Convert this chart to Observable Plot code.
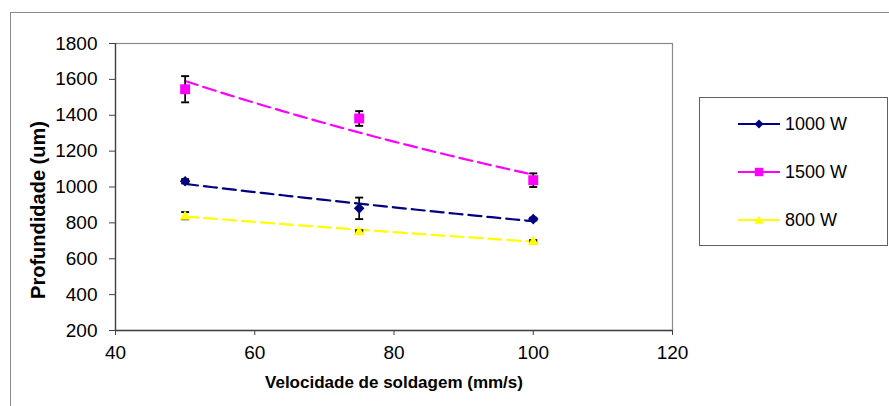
<!DOCTYPE html>
<html>
<head>
<meta charset="utf-8">
<script src="https://cdn.jsdelivr.net/npm/d3@7"></script>
<script src="https://cdn.jsdelivr.net/npm/@observablehq/plot@0.6"></script>
<style>
  html, body { margin: 0; padding: 0; background: #fff; }
  #wrap { position: relative; width: 889px; height: 406px; overflow: hidden; background: #fff;
          font-family: "Liberation Sans", Arial, sans-serif; }
  #outer { position: absolute; left: 10px; top: 12px; width: 900px; height: 420px;
           border-left: 1.5px solid #8a8a8a; border-top: 1.5px solid #8a8a8a; box-sizing: border-box; pointer-events: none; }
  #chart { position: absolute; left: 0; top: 0; }
  .title { position: absolute; font-weight: bold; color: #000; white-space: nowrap; line-height: 1; }
  #xtitle { left: 394px; top: 374px; font-size: 17px; transform: translateX(-50%); }
  #ytitle { left: 38px; top: 210px; font-size: 20px; transform: translate(-50%, -50%) rotate(-90deg); }
  #legend { position: absolute; left: 699px; top: 97px; width: 189px; height: 149px; box-sizing: border-box;
            border: 1px solid #606060; background: #fff; }
  .item { position: absolute; left: 38px; height: 20px; display: flex; align-items: center; font-size: 18px; color: #000; }
  .item svg { margin-right: 5px; }
</style>
</head>
<body>
<div id="wrap">
  <div id="outer"></div>
  <div id="chart"></div>
  <div id="xtitle" class="title">Velocidade de soldagem (mm/s)</div>
  <div id="ytitle" class="title">Profundidade (um)</div>
  <div id="legend"></div>
</div>
<script>
// ---- data ----
const speeds = [50, 75, 100];                 // mm/s
const seriesNames = ["1000 W", "1500 W", "800 W"];
const depth1000 = [1032, 881, 821];
const depth1500 = [1545, 1382, 1038];
const depth800  = [840, 754, 699];
const err1000 = [12, 60, 8];
const err1500 = [73, 41, 38];
const err800  = [20, 5, 5];
const seriesColors = ["#000080", "#FF00FF", "#FFFF00"];
const seriesSymbols = ["diamond2", "square", "triangle"];
const xTicks = [40, 60, 80, 100, 120];
const yTicks = [200, 400, 600, 800, 1000, 1200, 1400, 1600, 1800];

// ---- build tables ----
const depths = [depth1000, depth1500, depth800];
const errs = [err1000, err1500, err800];
const rows = [];
seriesNames.forEach((s, i) => speeds.forEach((x, j) => rows.push({series: s, x, y: depths[i][j], e: errs[i][j]})));

// exponential trendline (least squares on ln y), as in the spreadsheet
const trend = [];
seriesNames.forEach((s, i) => {
  const xs = speeds, ly = depths[i].map(Math.log);
  const mx = d3.mean(xs), my = d3.mean(ly);
  const b = d3.sum(xs.map((x, k) => (x - mx) * (ly[k] - my))) / d3.sum(xs.map(x => (x - mx) ** 2));
  const a = my - b * mx;
  const xmin = d3.min(xs), xmax = d3.max(xs);
  for (let k = 0; k <= 50; k++) {
    const x = xmin + (xmax - xmin) * k / 50;
    trend.push({series: s, x, y: Math.exp(a + b * x)});
  }
});

const cap = { draw(ctx, size) { const w = Math.sqrt(size / Math.PI); ctx.moveTo(-w, 0); ctx.lineTo(w, 0); } };
const color = Plot.scale({color: {domain: seriesNames, range: seriesColors}});
const radii = {"1000 W": 4.8, "1500 W": 5.6, "800 W": 4.0};

const marks = [
  Plot.frame({stroke: "#8a8a8a", strokeWidth: 1.2}),
  Plot.ruleX([40], {stroke: "#404040", strokeWidth: 1.3}),
  Plot.ruleY([200], {stroke: "#404040", strokeWidth: 1.3}),
  Plot.axisX({ticks: xTicks, tickFormat: "d", tickSize: 5, tickPadding: 10, stroke: "#404040", label: null, fill: "#000"}),
  Plot.axisY({ticks: yTicks, tickFormat: "d", tickSize: 6, tickPadding: 12, stroke: "#404040", label: null, fill: "#000"}),
  Plot.line(trend, {x: "x", y: "y", z: "series", stroke: d => color.apply(d.series), strokeWidth: 2.2, strokeDasharray: "13,6"}),
  Plot.ruleX(rows, {x: "x", y1: d => d.y - d.e, y2: d => d.y + d.e, stroke: "#000", strokeWidth: 1.7}),
  Plot.dot(rows, {x: "x", y: d => d.y + d.e, symbol: cap, r: 4, stroke: "#000", strokeWidth: 1.9, fill: "none"}),
  Plot.dot(rows, {x: "x", y: d => d.y - d.e, symbol: cap, r: 4, stroke: "#000", strokeWidth: 1.9, fill: "none"})
];
seriesNames.forEach((s, i) => {
  marks.push(Plot.dot(rows.filter(d => d.series === s), {
    x: "x", y: "y", symbol: seriesSymbols[i], r: radii[s],
    fill: seriesColors[i], stroke: "none", dy: s === "800 W" ? 1 : 0
  }));
});

const chart = Plot.plot({
  width: 889, height: 406,
  marginLeft: 115, marginRight: 217, marginTop: 43, marginBottom: 76,
  style: {fontSize: "19px", fontFamily: "'Liberation Sans', Arial, sans-serif", background: "transparent", color: "#000"},
  x: {domain: [40, 120], ticks: xTicks},
  y: {domain: [200, 1800], ticks: yTicks},
  marks
});
document.getElementById("chart").appendChild(chart);

// ---- legend ----
const legend = document.getElementById("legend");
const legendY = [26, 74, 122];
seriesNames.forEach((s, i) => {
  const it = document.createElement("div");
  it.className = "item";
  it.style.top = (legendY[i] - 10) + "px";
  const sym = d3.symbol().type({diamond2: d3.symbolDiamond2, square: d3.symbolSquare, triangle: d3.symbolTriangle}[seriesSymbols[i]])
    .size(Math.PI * radii[s] ** 2)();
  it.innerHTML = `<svg width="42" height="20"><line x1="0" x2="42" y1="10" y2="10" stroke="${seriesColors[i]}" stroke-width="2"/>` +
    `<path d="${sym}" transform="translate(21,${s === "800 W" ? 11 : 10}) scale(0.85)" fill="${seriesColors[i]}"/></svg><span>${s}</span>`;
  legend.appendChild(it);
});
</script>
</body>
</html>
